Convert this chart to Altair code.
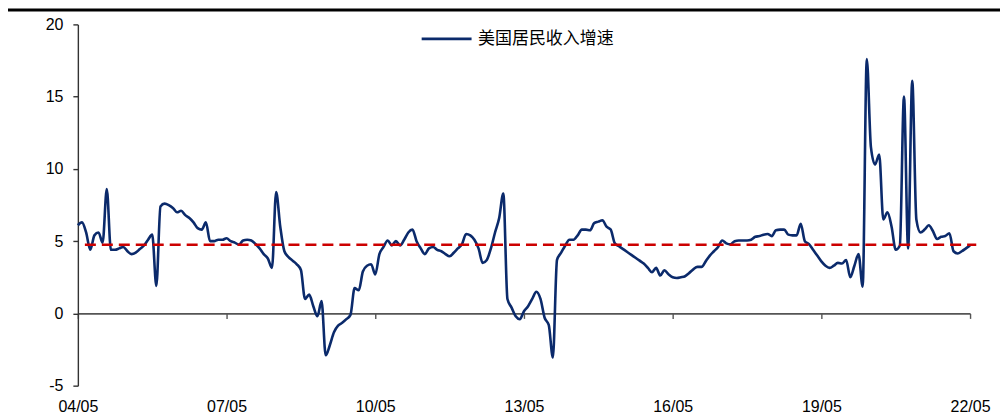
import json
import altair as alt
import pandas as pd

series_name = "美国居民收入增速"

# monthly values, starting 2004-05
v2004 = [6.1, 6.3, 5.6, 4.4, 5.4, 5.6, 4.9, 8.6]
v2005 = [4.4, 4.4, 4.5, 4.6, 4.3, 4.1, 4.2, 4.45, 4.7, 5.1, 5.45, 1.9]
v2006 = [7.4, 7.6, 7.5, 7.3, 7.0, 7.1, 6.8, 6.6, 6.3, 5.9, 5.8, 6.3]
v2007 = [5.0, 5.0, 5.1, 5.1, 5.2, 5.0, 4.9, 4.76, 5.05, 5.1, 5.05, 4.8]
v2008 = [4.5, 4.1, 3.8, 3.15, 8.4, 6.0, 4.3, 3.9, 3.65, 3.4, 3.0, 1.0]
v2009 = [1.3, 0.5, -0.2, 0.85, -2.9, -2.2, -1.3, -0.85, -0.65, -0.4, -0.1, 1.75]
v2010 = [1.6, 2.9, 3.3, 3.4, 2.7, 4.1, 4.6, 5.05, 4.7, 5.0, 4.7, 5.1]
v2011 = [5.6, 5.8, 5.0, 4.5, 4.1, 4.5, 4.6, 4.4, 4.3, 4.1, 3.95, 4.2]
v2012 = [4.5, 4.8, 5.5, 5.4, 5.1, 4.5, 3.5, 3.7, 4.5, 5.6, 6.6, 8.3]
v2013 = [1.0, 0.4, -0.2, -0.4, 0.15, 0.5, 1.0, 1.5, 1.0, -0.3, -0.8, -3.05]
v2014 = [3.7, 4.2, 4.7, 5.1, 5.1, 5.4, 5.8, 5.8, 5.75, 6.25, 6.35, 6.45]
v2015 = [6.0, 5.8, 4.85, 4.65, 4.45, 4.25, 4.05, 3.85, 3.65, 3.45, 3.15, 2.85]
v2016 = [3.15, 2.62, 2.99, 2.7, 2.5, 2.45, 2.5, 2.57, 2.8, 3.05, 3.22, 3.22]
v2017 = [3.6, 4.0, 4.3, 4.6, 5.05, 4.85, 4.78, 5.0, 5.05, 5.05, 5.05, 5.1]
v2018 = [5.3, 5.35, 5.45, 5.5, 5.35, 5.75, 5.8, 5.8, 5.45, 5.4, 5.4, 6.2]
v2019 = [5.0, 4.8, 4.4, 4.0, 3.6, 3.3, 3.15, 3.3, 3.5, 3.45, 3.7, 2.5]
v2020 = [3.3, 4.1, 1.85, 17.6, 11.5, 10.3, 11.0, 6.5, 7.0, 6.0, 4.4, 4.7]
v2021 = [15.0, 4.5, 16.1, 6.5, 5.6, 5.8, 6.1, 5.7, 5.15, 5.3, 5.35, 5.55]
v2022 = [4.3, 4.15, 4.3, 4.5, 4.7]

values = (v2004 + v2005 + v2006 + v2007 + v2008 + v2009 + v2010 + v2011 + v2012
          + v2013 + v2014 + v2015 + v2016 + v2017 + v2018 + v2019 + v2020 + v2021 + v2022)
months = list(range(len(values)))  # month index from 2004-05

tick_months = [0, 36, 72, 108, 144, 180, 216]
tick_labels = ["04/05", "07/05", "10/05", "13/05", "16/05", "19/05", "22/05"]
y_ticks = [-5, 0, 5, 10, 15, 20]

avg_value = [4.75]
avg_start = [1.7]
avg_end = [217.5]

df = pd.DataFrame({"month": months, "value": values, "series": series_name})
df_avg = pd.DataFrame({"start": avg_start, "end": avg_end, "value": avg_value})

W, H = 894, 362
label_expr = f"{json.dumps(tick_labels)}[indexof({json.dumps(tick_months)}, datum.value)]"

x_scale = alt.Scale(domain=[0, 216], nice=False, zero=False)
y_scale = alt.Scale(domain=[-5, 20], nice=False)

line = alt.Chart(df).mark_line(interpolate="monotone", strokeWidth=2.6).encode(
    x=alt.X("month:Q", scale=x_scale, title=None,
            axis=alt.Axis(values=tick_months, labelExpr=label_expr, offset=-72.4,
                          tickSize=5, labelPadding=80, domainColor="#555555",
                          tickColor="#555555", domainWidth=1.6, tickWidth=1.4,
                          grid=False, labelFontSize=16, labelColor="#000000",
                          labelFont="Liberation Sans", labelFlush=False,
                          labelOverlap=False)),
    y=alt.Y("value:Q", scale=y_scale, title=None,
            axis=alt.Axis(values=y_ticks, tickSize=5, labelPadding=10,
                          labelExpr="toString(datum.value)",
                          domainColor="#333333", tickColor="#333333",
                          domainWidth=1.4, tickWidth=1.4, grid=False,
                          labelFontSize=16, labelColor="#000000",
                          labelFont="Liberation Sans")),
    color=alt.Color("series:N",
                    scale=alt.Scale(domain=[series_name], range=["#0B2A6B"]),
                    legend=alt.Legend(orient="none", legendX=343, legendY=-12,
                                      title=None, symbolType="stroke",
                                      symbolSize=2500, symbolStrokeWidth=2.6,
                                      labelFontSize=17, labelFont="Noto Sans CJK SC",
                                      labelColor="#000000", labelOffset=5,
                                      padding=0)),
)

avg = alt.Chart(df_avg).mark_rule(color="#CC0000", strokeDash=[11, 6], strokeWidth=2.5).encode(
    x=alt.X("start:Q", scale=x_scale),
    x2="end:Q",
    y=alt.Y("value:Q", scale=y_scale),
)

border = alt.Chart(df_avg).mark_rule(color="#000000", strokeWidth=3).encode(
    x=alt.value(-70), x2=alt.value(940), y=alt.value(-14.5)
)

chart = alt.layer(line, avg, border).properties(
    width=W, height=H,
    autosize=alt.AutoSizeParams(type="none"),
    padding={"left": 70, "top": 16, "right": 30, "bottom": 40},
).configure_view(stroke=None)

chart.save("out.html", embed_options={"renderer": "svg", "actions": False})
